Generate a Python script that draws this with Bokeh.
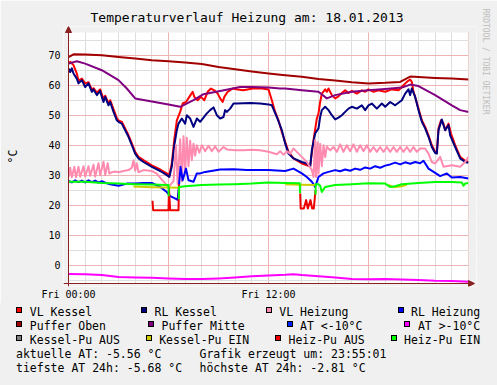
from bokeh.plotting import figure
from bokeh.models import FixedTicker, Range1d, Title, Div, Arrow, NormalHead, BoxAnnotation
from bokeh.layouts import column
from bokeh.embed import file_html
from bokeh.resources import INLINE

NAN = float("nan")

# ---------------- data ----------------
title_text = "Temperaturverlauf Heizung am: 18.01.2013"
y_label = "°C"
watermark = "RRDTOOL / TOBI OETIKER"
x_tick_hours = [0, 12]
x_tick_labels = ["Fri 00:00", "Fri 12:00"]
y_ticks = [0, 10, 20, 30, 40, 50, 60, 70]

vl_kessel_h = [0, 0.1, 0.3, 0.5, 0.6, 0.8, 1.0, 1.2, 1.4, 1.5, 1.7, 1.9, 2.0, 2.1, 2.2, 2.4, 2.5, 2.7, 2.9, 3.0,
               3.2, 3.4, 3.6, 3.8, 4.0, 4.2, 4.5, 5.0, 5.5, 5.9, 6.05, 6.2, 6.35, 6.5, 6.7, 6.85, 7.05, 7.25, 7.45,
               7.55, 7.75, 7.95, 8.15, 8.35, 8.55, 8.75, 8.95, 9.1, 9.25, 9.35, 9.55, 9.85, 10.15, 10.5, 11.05,
               11.6, 12.0, 12.2, 12.4, 12.6, 12.8, 13.0, 13.2, 13.5, 14.0, 14.3, 14.5, 14.7, 14.9, 15.0, 15.1,
               15.2, 15.4, 15.5, 15.6, 15.8, 16.0, 16.2, 16.4, 16.6, 16.8, 17.0, 17.3, 17.6, 17.8, 18.0, 18.3,
               18.6, 19.0, 19.4, 19.8, 20.1, 20.3, 20.5, 20.6, 20.7, 20.8, 21.0, 21.2, 21.4, 21.6, 21.8, 22.0,
               22.1, 22.2, 22.35, 22.5, 22.6, 22.8, 22.95, 23.2, 23.5, 23.8, 24.0]
vl_kessel_v = [67.2, 67.8, 66.7, 63.9, 61.5, 62.2, 60.6, 61.0, 58.5, 59.0, 57.5, 58.6, 57.0, 55.5, 56.5, 54.0, 55.0,
               52.0, 49.0, 48.3, 47.8, 45.6, 43.3, 40.6, 37.8, 36.1, 35.0, 33.3, 31.9, 30.6, 30.0, 34.0, 42.0, 48.3,
               51.1, 53.9, 54.4, 56.1, 57.8, 56.1, 55.0, 56.1, 55.0, 57.8, 58.9, 58.3, 57.2, 55.6, 54.4, 56.1, 57.8,
               58.9, 58.6, 58.3, 58.9, 58.9, 58.6, 55.0, 51.1, 48.3, 44.4, 41.1, 37.8, 35.6, 33.9, 33.3, 33.0, 41.7,
               48.9, 50.6, 54.4, 57.2, 58.6, 57.8, 58.9, 56.7, 55.6, 56.3, 57.4, 58.3, 57.4, 58.1, 57.2, 58.3, 57.8,
               58.6, 57.8, 58.3, 57.8, 58.6, 58.3, 60.0, 61.1, 61.9, 61.1, 57.8, 56.1, 52.2, 48.3, 46.1, 43.3, 40.0,
               37.8, 37.4, 45.6, 48.3, 47.2, 45.0, 47.2, 43.9, 40.0, 36.1, 34.8, 34.4]

rl_kessel_h = [0, 0.1, 0.2, 0.3, 0.5, 0.6, 0.8, 1.0, 1.2, 1.4, 1.5, 1.7, 1.9, 2.0, 2.1, 2.2, 2.4, 2.5, 2.7, 2.9,
               3.0, 3.2, 3.4, 3.6, 3.8, 4.0, 4.2, 4.5, 5.0, 5.5, 5.9, 6.05, 6.2, 6.35, 6.5, 6.6, 6.8, 7.0, 7.1, 7.3,
               7.5, 7.7, 7.9, 8.3, 8.5, 8.7, 8.9, 9.1, 9.3, 9.4, 9.5, 9.7, 9.9, 10.1, 10.9, 11.5, 12.0, 12.2, 12.5,
               12.8, 13.0, 13.2, 13.5, 14.0, 14.3, 14.5, 14.6, 14.8, 15.0, 15.1, 15.2, 15.4, 15.6, 15.8, 16.0, 16.2,
               16.4, 16.6, 16.8, 17.0, 17.3, 17.6, 17.8, 18.0, 18.2, 18.5, 18.8, 19.0, 19.3, 19.6, 20.0, 20.2, 20.4,
               20.5, 20.6, 20.8, 21.0, 21.2, 21.4, 21.6, 21.8, 22.0, 22.1, 22.2, 22.4, 22.5, 22.6, 22.8, 22.9, 23.2,
               23.5, 23.8, 24.0]
rl_kessel_v = [65.6, 64.4, 65.6, 63.9, 62.2, 60.6, 61.7, 59.4, 60.6, 57.8, 58.6, 56.7, 58.1, 56.1, 54.4, 56.1, 53.3,
               54.4, 51.1, 48.3, 47.8, 47.2, 45.0, 42.8, 40.0, 37.2, 35.6, 34.4, 32.8, 31.4, 30.0, 29.4, 33.0, 40.0,
               45.0, 47.2, 48.9, 47.2, 50.0, 48.9, 46.1, 48.9, 47.8, 50.6, 51.7, 52.6, 50.0, 48.9, 49.4, 51.7, 51.1,
               52.2, 53.9, 53.9, 54.1, 53.9, 53.6, 53.3, 49.4, 45.0, 40.6, 37.2, 35.6, 34.4, 33.9, 32.8, 38.3, 43.9,
               45.6, 49.4, 51.7, 52.8, 51.7, 50.0, 48.6, 49.2, 50.0, 51.1, 52.2, 52.8, 52.2, 53.3, 51.7, 53.3, 53.9,
               52.2, 53.9, 52.8, 54.4, 53.3, 55.0, 57.2, 58.6, 56.7, 58.9, 56.1, 51.7, 47.8, 45.6, 42.8, 39.4, 37.4,
               37.2, 45.0, 48.6, 46.7, 45.0, 46.7, 43.3, 39.4, 35.6, 34.4, 34.1]

vl_heiz_h = [0, 0.1, 0.2, 0.35, 0.45, 0.6, 0.7, 0.9, 1.0, 1.2, 1.3, 1.5, 1.6, 1.8, 1.9, 2.1, 2.2, 2.35, 2.45, 2.6,
             2.8, 3.0, 3.3, 3.6, 3.8, 3.9, 4.0, 4.1, 4.2, 4.5, 5.0, 5.3, 5.6, 6.0, 6.3, 6.45, 6.55, 6.7, 6.8, 6.9,
             7.0, 7.1, 7.2, 7.3, 7.4, 7.5, 7.6, 7.7, 7.85, 8.0, 8.2, 8.4, 8.6, 8.8, 9.0, 9.3, 9.5, 10.0, 10.5, 11.0,
             11.5, 12.0, 12.5, 12.7, 12.9, 13.1, 13.3, 13.5, 13.8, 14.0, 14.3, 14.6, 14.7, 14.8, 14.85, 14.95, 15.0,
             15.1, 15.2, 15.3, 15.4, 15.5, 15.7, 15.9, 16.1, 16.3, 16.5, 16.7, 16.9, 17.1, 17.3, 17.5, 17.7, 17.9,
             18.1, 18.3, 18.5, 18.7, 18.9, 19.1, 19.3, 19.5, 19.7, 19.9, 20.1, 20.3, 20.5, 20.7, 20.9, 21.1, 21.4,
             21.6, 21.8, 22.0, 22.3, 22.5, 23.0, 23.5, 23.8, 24.0]
vl_heiz_v = [29.5, 32.5, 29.3, 32.8, 29.3, 32.8, 29.5, 33.0, 29.5, 33.0, 29.8, 33.5, 29.5, 34.0, 30.0, 34.5, 30.0,
             34.0, 30.5, 31.0, 31.2, 31.0, 31.4, 31.7, 32.5, 35.0, 31.5, 34.0, 31.0, 31.7, 31.4, 30.5, 28.5, 26.0,
             28.0, 40.0, 27.0, 42.0, 28.0, 43.0, 31.0, 42.5, 33.0, 41.5, 35.0, 40.5, 36.5, 40.0, 37.5, 40.0, 38.0,
             39.8, 38.0, 39.6, 37.8, 39.4, 38.6, 38.3, 38.3, 38.5, 38.3, 37.8, 37.0, 38.0, 36.8, 38.0, 37.2, 38.9,
             37.2, 36.1, 34.4, 31.7, 29.4, 41.7, 29.4, 41.0, 30.5, 40.5, 33.0, 40.0, 36.0, 39.5, 38.3, 39.4, 37.8,
             40.3, 37.8, 40.0, 38.0, 40.3, 37.8, 40.0, 38.0, 40.0, 37.8, 39.4, 37.8, 39.4, 37.8, 39.4, 37.8, 39.4,
             37.8, 39.4, 37.8, 39.4, 37.8, 39.4, 37.8, 38.9, 38.9, 37.2, 34.4, 33.9, 36.1, 32.8, 33.3, 32.8, 34.4,
             36.1]

rl_heiz_h = [0, 0.2, 0.4, 0.6, 0.8, 1.0, 1.2, 1.4, 1.6, 1.8, 2.0, 2.3, 2.5, 3.0, 3.3, 3.5, 4.0, 4.5, 5.0, 5.5, 5.9,
             6.1, 6.3, 6.55, 6.65, 6.72, 6.85, 7.05, 7.2, 7.5, 7.7, 7.9, 8.2, 9.1, 9.9, 10.7, 11.5, 12.0, 13.0, 13.5,
             14.0, 14.3, 14.6, 14.8, 15.0, 15.3, 15.6, 16.0, 16.3, 16.6, 16.9, 17.2, 17.5, 17.8, 18.1, 18.4, 18.7,
             19.0, 19.3, 19.6, 19.9, 20.2, 20.5, 20.8, 21.1, 21.3, 21.6, 22.0, 22.3, 22.7, 23.0, 23.5, 24.0]
rl_heiz_v = [28.1, 27.6, 28.3, 27.7, 28.2, 27.6, 28.3, 27.7, 28.2, 27.5, 28.0, 27.3, 27.0, 26.5, 26.9, 27.2, 27.2,
             27.4, 27.4, 26.1, 24.4, 23.0, 22.5, 21.8, 28.0, 32.8, 28.3, 32.2, 28.3, 27.8, 30.6, 30.6, 31.1, 31.9,
             32.0, 31.7, 31.7, 31.7, 31.4, 32.2, 30.6, 29.4, 27.8, 26.1, 29.4, 30.6, 31.1, 31.7, 31.3, 31.9, 31.5,
             32.2, 31.8, 32.6, 32.2, 33.0, 32.5, 33.2, 33.6, 34.2, 33.6, 34.3, 33.8, 34.4, 34.0, 34.8, 32.2, 30.8,
             29.7, 30.6, 29.2, 29.4, 28.9]

puffer_oben_h = [0, 0.3, 1, 2, 3, 4, 5, 6, 7, 8, 9, 10, 11, 12, 13, 14, 15, 16, 17, 18, 19, 19.9, 20.5, 21, 22, 23, 24]
puffer_oben_v = [69.4, 70.3, 70.2, 70.0, 69.4, 68.9, 68.3, 68.0, 67.6, 67.1, 66.1, 65.3, 64.6, 63.9, 63.3, 62.8, 62.1,
                 61.6, 61.0, 60.6, 60.8, 61.1, 62.9, 62.7, 62.4, 62.2, 61.9]

puffer_mitte_h = [0, 0.5, 1, 2, 3, 3.5, 4, 5, 6, 6.7, 7.5, 8.1, 9.1, 10.3, 11, 12, 12.7, 13, 14, 15, 15.5, 16, 17,
                  18, 19, 20, 20.5, 21, 22, 23, 23.5, 24]
puffer_mitte_v = [67.2, 68.0, 67.2, 65.0, 61.7, 58.9, 55.6, 54.6, 53.6, 52.8, 55.0, 57.0, 58.1, 59.4, 59.4, 59.2,
                  58.9, 58.9, 58.3, 57.8, 55.6, 56.7, 57.8, 58.3, 58.7, 59.2, 60.2, 59.7, 56.7, 53.3, 51.7, 51.1]

at_h = [0, 1, 2, 3, 4, 5, 6, 7, 8, 9, 10, 11, 12, 13, 13.5, 14, 15, 16, 17, 18, 19, 20, 21, 22, 23, 24]
at_v = [-2.9, -3.0, -3.3, -3.9, -4.1, -4.2, -4.4, -4.6, -4.6, -4.4, -4.1, -3.7, -3.4, -3.2, -3.0, -3.3, -3.7, -4.1,
        -4.6, -4.7, -4.6, -4.8, -4.9, -5.2, -5.3, -5.5]

kessel_pu_ein_h = [3.9, 5.0, 6.0, 6.7, NAN, 13.0, 13.9, 14.9, NAN, 19.2, 19.5, 20.0, 20.3]
kessel_pu_ein_v = [26.2, 26.0, 25.9, 25.8, NAN, 27.0, 26.8, 26.7, NAN, 26.8, 26.0, 26.3, 26.8]

heiz_pu_aus_h = [5.04, 5.08, 6.0, 6.03, 6.1, 6.6, 6.63, NAN, 13.9, 13.93, 14.12, 14.26, 14.36, 14.52, 14.62, 14.72,
                 14.82]
heiz_pu_aus_v = [21.5, 18.3, 18.3, 25.5, 18.3, 18.3, 27.0, NAN, 23.9, 18.9, 18.9, 21.7, 18.9, 21.7, 18.9, 18.9, 25.0]

heiz_pu_ein_h = [0, 1, 2, 3, 4, 5, 5.9, 6.0, 6.01, NAN, 6.62, 6.63, 7, 8, 9, 10, 11, 12, 13, 13.88, 13.89, NAN,
                 14.82, 14.83, 15, 15.1, 15.2, 15.4, 16, 17, 18, 19, 19.3, 19.6, 20, 21, 22, 23, 23.6, 23.7, 23.8, 24]
heiz_pu_ein_v = [27.8, 27.8, 27.4, 27.2, 27.0, 26.9, 26.7, 26.7, 23.0, NAN, 22.0, 26.1, 26.3, 26.7, 26.9, 27.0, 27.2,
                 27.6, 27.4, 27.3, 24.0, NAN, 23.5, 27.0, 27.0, 26.5, 24.4, 26.1, 26.7, 27.0, 27.3, 27.2, 26.1, 26.3,
                 27.0, 27.4, 27.7, 27.7, 27.6, 26.5, 27.2, 27.4]

legend_rows = [["VL Kessel", "RL Kessel", "VL Heizung", "RL Heizung"],
               ["Puffer Oben", "Puffer Mitte", "AT <-10°C", "AT >-10°C"],
               ["Kessel-Pu AUS", "Kessel-Pu EIN", "Heiz-Pu AUS", "Heiz-Pu EIN"]]
legend_colors = [["#FF0000", "#000080", "#FF8CB0", "#0000FF"],
                 ["#A00000", "#800080", "#0022FF", "#FF00FF"],
                 ["#808080", "#CCCC00", "#EE0000", "#00FF00"]]
stats_left = ["aktuelle AT: -5.56 °C", "tiefste AT 24h: -5.68 °C"]
stats_right = ["Grafik erzeugt um: 23:55:01", "höchste AT 24h: -2.81 °C"]

# ---------------- layout ----------------
W = 497
FIG_H = 303
DIV_H = 385 - FIG_H
FONT = "DejaVu Sans Mono"
BG = "#F0F0F0"
AXIS = "#8A2020"
MINOR = "#DEDEDE"
MAJOR = "#EDB4B4"

# white plot area in page pixels, and the value range it shows
PL, PR, PT, PB = 68, 468, 32, 283
X0, X1 = 0, 24
Y0, Y1 = -6.1, 77.57
KX = (PR - PL) / (X1 - X0)
KY = (PB - PT) / (Y1 - Y0)
# frame is a little larger so that the axis arrows can be drawn (page pixels)
FL, FR, FT, FB = 63, 476, 26, 286
XA, XB = X0 - (PL - FL) / KX, X1 + (FR - PR) / KX
YA, YB = Y0 - (FB - PB) / KY, Y1 + (PT - FT) / KY

p = figure(width=W, height=FIG_H, output_backend="svg", toolbar_location=None,
           x_range=Range1d(XA, XB), y_range=Range1d(YA, YB), title=title_text,
           min_border_left=FL, min_border_right=W - FR, min_border_top=FT, min_border_bottom=FIG_H - FB)
p.background_fill_color = "white"
p.border_fill_color = BG
p.outline_line_color = None

p.title.text_font = FONT
p.title.text_font_size = "13px"
p.title.text_font_style = "normal"
p.title.text_color = "black"
p.title.align = "left"
p.title.offset = 22 + (PL - FL)
p.title.standoff = 4

p.add_layout(Title(text=watermark, align="left", offset=-18, standoff=9, text_font=FONT,
                   text_font_size="8px", text_font_style="normal", text_color="#BDBDBD"), "right")

p.xaxis.ticker = FixedTicker(ticks=[0, 6, 12, 18, 24], minor_ticks=[h for h in range(25) if h % 6])
overrides = {h: "" for h in [6, 18, 24]}
overrides.update({h: t for h, t in zip(x_tick_hours, x_tick_labels)})
p.xaxis.major_label_overrides = overrides
p.yaxis.ticker = FixedTicker(ticks=y_ticks, minor_ticks=[-5 + 10 * i for i in range(9)])

for ax in (p.xaxis[0], p.yaxis[0]):
    ax.axis_line_color = None
    ax.major_tick_line_color = None
    ax.minor_tick_line_color = None
    ax.major_tick_in = 0
    ax.major_tick_out = 0
    ax.minor_tick_in = 0
    ax.minor_tick_out = 0
    ax.major_label_text_font = FONT
    ax.major_label_text_font_size = "10px"
    ax.major_label_text_color = "black"
p.yaxis.major_label_standoff = 3
p.xaxis.major_label_standoff = 2
p.yaxis.axis_label = y_label
p.yaxis.axis_label_text_font = FONT
p.yaxis.axis_label_text_font_size = "11.5px"
p.yaxis.axis_label_text_font_style = "normal"
p.yaxis.axis_label_text_color = "black"
p.yaxis.axis_label_standoff = 25

p.xgrid.grid_line_color = MAJOR
p.xgrid.minor_grid_line_color = MINOR
p.ygrid.grid_line_color = MAJOR
p.ygrid.minor_grid_line_color = MINOR

series = [
    (vl_kessel_h, vl_kessel_v, "#FF0000"),
    (rl_kessel_h, rl_kessel_v, "#000080"),
    (vl_heiz_h, vl_heiz_v, "#FF8CB0"),
    (rl_heiz_h, rl_heiz_v, "#0000FF"),
    (puffer_oben_h, puffer_oben_v, "#A00000"),
    (puffer_mitte_h, puffer_mitte_v, "#800080"),
    (at_h, at_v, "#FF00FF"),
    (kessel_pu_ein_h, kessel_pu_ein_v, "#CCCC00"),
    (heiz_pu_aus_h, heiz_pu_aus_v, "#EE0000"),
    (heiz_pu_ein_h, heiz_pu_ein_v, "#00FF00"),
]
for xs, ys, c in series:
    p.line(xs, ys, line_color=c, line_width=2, line_join="round")

# grey strips around the white plot area (inside the enlarged frame)
for l, r, b, t in [(XA, X0, YA, YB), (X1, XB, YA, YB), (XA, XB, YA, Y0), (XA, XB, Y1, YB)]:
    p.add_layout(BoxAnnotation(left=l, right=r, bottom=b, top=t, fill_color=BG, fill_alpha=1.0,
                               line_color=None, level="annotation"))

# axis lines with arrow heads
head = dict(size=6, fill_color=AXIS, line_color=AXIS, line_width=1)
p.add_layout(Arrow(end=NormalHead(**head), x_start=X0, y_start=YA, x_end=X0, y_end=YB,
                   line_color=AXIS, line_width=1))
p.add_layout(Arrow(end=NormalHead(**head), x_start=XA, y_start=Y0, x_end=XB - 2 / KX, y_end=Y0,
                   line_color=AXIS, line_width=1))

# ---------------- legend block (HTML, below the figure) ----------------
LFS = 11.5
CW = 0.6021 * LFS
CAP = 6.8          # cap-centre offset from line-box top for a 14px line


def span_text(px, cap_y, t):
    top = cap_y - CAP - FIG_H
    return (f'<span style="position:absolute;left:{px:.1f}px;top:{top:.1f}px;line-height:14px;'
            f'white-space:pre;">{t}</span>')


def span_box(px, cap_y, c):
    top = cap_y - 4 - FIG_H
    return (f'<span style="position:absolute;left:{px:.1f}px;top:{top:.1f}px;width:6px;height:6px;'
            f'background:{c};border:1px solid #000;"></span>')


parts = []
left_edge, right_edge = 16.3, 480.0
row_y = [311.3, 325.3, 339.3]
for labels, colors, yc in zip(legend_rows, legend_colors, row_y):
    widths = [13.3 + len(t) * CW for t in labels]
    gap = (right_edge - left_edge - sum(widths)) / (len(labels) - 1)
    x = left_edge
    for t, c, w in zip(labels, colors, widths):
        parts.append(span_box(x, yc, c))
        parts.append(span_text(x + 13.5, yc, t))
        x += w + gap
for i, (a, b) in enumerate(zip(stats_left, stats_right)):
    yc = 353.3 + 14 * i
    parts.append(span_text(16, yc, a))
    parts.append(span_text(199.5, yc, b))

html = (f'<div style="position:relative;width:{W}px;height:{DIV_H}px;background:{BG};'
        f'font-family:\'{FONT}\';font-size:{LFS}px;color:#000;overflow:hidden;">' + "".join(parts) + "</div>")
legend_div = Div(text=html, width=W, height=DIV_H, margin=0, styles={"background-color": BG})

layout = column(p, legend_div, spacing=0)
open("out.html", "w").write(file_html(layout, INLINE))
